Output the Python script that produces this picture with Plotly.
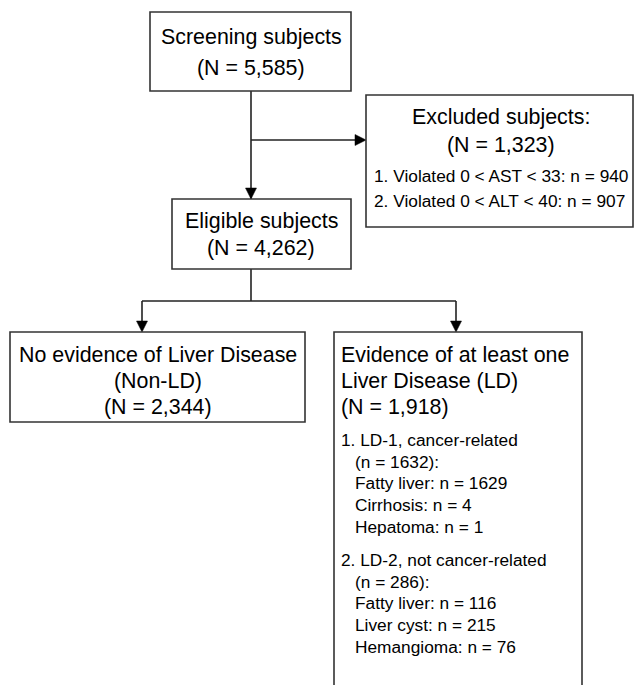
import plotly.graph_objects as go

# ---- data (text content of the flow chart) ----
screening_n = 5585
excluded_n = 1323
eligible_n = 4262
non_ld_n = 2344
ld_n = 1918

excluded_reasons = ["Violated 0 < AST < 33", "Violated 0 < ALT < 40"]
excluded_counts = [940, 907]

ld_groups = ["LD-1, cancer-related", "LD-2, not cancer-related"]
ld_group_counts = [1632, 286]
ld1_conditions = ["Fatty liver", "Cirrhosis", "Hepatoma"]
ld1_counts = [1629, 4, 1]
ld2_conditions = ["Fatty liver", "Liver cyst", "Hemangioma"]
ld2_counts = [116, 215, 76]

W, H = 635, 685
FONT = "Liberation Sans, Arial, sans-serif"
BIG = 21.4
SMALL = 17.3
LINE_C = "#222222"
BOX_C = "#333333"

fig = go.Figure()
shapes = []
annotations = []


def box(x0, y0, x1, y1):
    shapes.append(dict(type="rect", x0=x0, y0=y0, x1=x1, y1=y1,
                       xref="x", yref="y",
                       line=dict(color=BOX_C, width=1.6),
                       fillcolor="white", layer="above"))


def line(x0, y0, x1, y1):
    shapes.append(dict(type="line", x0=x0, y0=y0, x1=x1, y1=y1,
                       xref="x", yref="y",
                       line=dict(color=LINE_C, width=1.6)))


def arrow_down(x, ytip, size=11, half=5.5):
    shapes.append(dict(type="path",
                       path=f"M {x-half},{ytip-size} L {x+half},{ytip-size} L {x},{ytip} Z",
                       xref="x", yref="y", fillcolor="black",
                       line=dict(color="black", width=0.5)))


def arrow_right(xtip, y, size=11, half=5.5):
    shapes.append(dict(type="path",
                       path=f"M {xtip-size},{y-half} L {xtip-size},{y+half} L {xtip},{y} Z",
                       xref="x", yref="y", fillcolor="black",
                       line=dict(color="black", width=0.5)))


def text(x, y, s, size=BIG, anchor="center"):
    annotations.append(dict(x=x, y=y, xref="x", yref="y", text=s,
                            showarrow=False, xanchor=anchor, yanchor="middle",
                            font=dict(family=FONT, size=size, color="black")))


# connectors
line(251, 91, 251, 199)
line(251, 140, 356, 140)
arrow_right(366, 140)
arrow_down(251, 199)
line(251, 269, 251, 301)
line(142, 301, 456, 301)
line(142, 301, 142, 322)
line(456, 301, 456, 322)
arrow_down(142, 332)
arrow_down(456, 332)

# boxes
box(150, 12, 351, 91)
box(366, 95, 633, 227)
box(172, 199, 351, 269)
box(10, 332, 305, 422)
box(334, 332, 582, 700)

# box 1
text(251, 37, "Screening subjects")
text(251, 68, f"(N = {screening_n:,})")

# excluded
text(501, 117, "Excluded subjects:")
text(501, 145, f"(N = {excluded_n:,})")
for i, (r, c) in enumerate(zip(excluded_reasons, excluded_counts)):
    text(372, 176 + 24.5 * i, f"{i+1}. {r}: n = {c}", size=SMALL, anchor="left")

# eligible
text(261, 221, "Eligible subjects")
text(261, 248, f"(N = {eligible_n:,})")

# non-LD
text(158, 355, "No evidence of Liver Disease")
text(158, 381, "(Non-LD)")
text(158, 407, f"(N = {non_ld_n:,})")

# LD
text(339, 355, "Evidence of at least one", anchor="left")
text(339, 381, "Liver Disease (LD)", anchor="left")
text(339, 407, f"(N = {ld_n:,})", anchor="left")

group_y = [440, 560]
cond_lists = [ld1_conditions, ld2_conditions]
count_lists = [ld1_counts, ld2_counts]
for g, (name, gn) in enumerate(zip(ld_groups, ld_group_counts)):
    y0 = group_y[g]
    text(339, y0, f"{g+1}. {name}", size=SMALL, anchor="left")
    text(353, y0 + 21.7, f"(n = {gn}):", size=SMALL, anchor="left")
    for j, (cn, cc) in enumerate(zip(cond_lists[g], count_lists[g])):
        text(353, y0 + 21.7 * (j + 2), f"{cn}: n = {cc}", size=SMALL, anchor="left")

fig.update_layout(
    width=W, height=H,
    margin=dict(l=0, r=0, t=0, b=0),
    paper_bgcolor="white", plot_bgcolor="white",
    xaxis=dict(range=[0, W], visible=False, fixedrange=True),
    yaxis=dict(range=[H, 0], visible=False, fixedrange=True),
    shapes=shapes, annotations=annotations,
    showlegend=False,
)

fig.write_html("out.html",
               config={"displayModeBar": False},
               post_script="document.body.style.margin='0';document.body.style.overflow='hidden';")
